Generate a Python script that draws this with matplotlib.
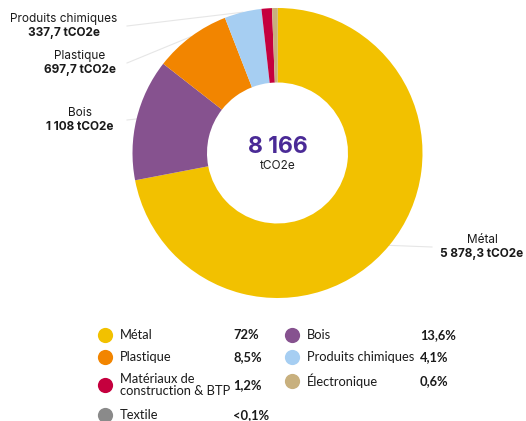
import numpy as np
import matplotlib.pyplot as plt

# data
categories = ["Métal", "Bois", "Plastique", "Produits chimiques",
              "Matériaux de\nconstruction & BTP", "Électronique", "Textile"]
values = [5878.3, 1108, 697.7, 337.7, 95, 47, 2.3]
percent_labels = ["72%", "13,6%", "8,5%", "4,1%", "1,2%", "0,6%", "<0,1%"]
value_labels = ["5 878,3 tCO2e", "1 108 tCO2e", "697,7 tCO2e", "337,7 tCO2e"]
colors = ["#F2C100", "#86528F", "#F28500", "#A6CEF2", "#C5003E", "#C8B07E", "#8A8A8A"]
total_label = "8 166"

W, H = 526, 421
fig = plt.figure(figsize=(W / 100, H / 100), dpi=100)
ax = fig.add_axes([0, 0, 1, 1])

cx, cy, R, ring = 277.5, H - 153, 145, 74.5
wedges, _ = ax.pie(values, colors=colors, startangle=90, counterclock=False,
                   center=(cx, cy), radius=R,
                   wedgeprops=dict(width=ring, linewidth=0))
ax.set_xlim(0, W)
ax.set_ylim(0, H)
ax.set_aspect("equal")
ax.set_axis_off()

lab_font = ["Inter", "DejaVu Sans"]
leg_font = ["Lato", "DejaVu Sans"]

# centre text
ax.text(cx, H - 147, total_label, ha="center", va="center", fontsize=16.5,
        fontweight="bold", color="#4A2A96", family=lab_font)
ax.text(cx, H - 166, "tCO2e", ha="center", va="center", fontsize=8.5,
        color="#222222", family=lab_font)

# callout labels (text centre x, line y, line end x)
callouts = [
    (0, 482, 247, 432),
    (1, 80, 120, 127),
    (2, 80, 63, 127),
    (3, 64, 26, 127),
]
for i, tx, ly, lx in callouts:
    w = wedges[i]
    mid = np.deg2rad((w.theta1 + w.theta2) / 2)
    px, py = cx + R * np.cos(mid), cy + R * np.sin(mid)
    ax.plot([px, lx], [py, H - ly], color="#E6E6E6", lw=0.8, zorder=0)
    name = categories[i]
    ax.text(tx, H - ly + 7, name, ha="center", va="center", fontsize=8.5,
            color="#1a1a1a", family=lab_font)
    ax.text(tx, H - ly - 7, value_labels[i], ha="center", va="center", fontsize=8.5,
            fontweight="bold", color="#1a1a1a", family=lab_font)

# legend
legend_pos = {
    0: (105, 335), 2: (105, 357), 4: (105, 385), 6: (105, 415),
    1: (292, 335), 3: (292, 357), 5: (292, 381),
}
for i, (x, y) in legend_pos.items():
    ax.scatter([x], [H - y], s=120, color=colors[i], linewidths=0)
    ax.text(x + 15, H - y, categories[i], ha="left", va="center", fontsize=9.3,
            color="#1a1a1a", family=leg_font, linespacing=1.0)
    ax.text(x + 128, H - y, percent_labels[i], ha="left", va="center", fontsize=9.3,
            fontweight="bold", color="#1a1a1a", family=leg_font)

fig.savefig("out.png", dpi=100)
